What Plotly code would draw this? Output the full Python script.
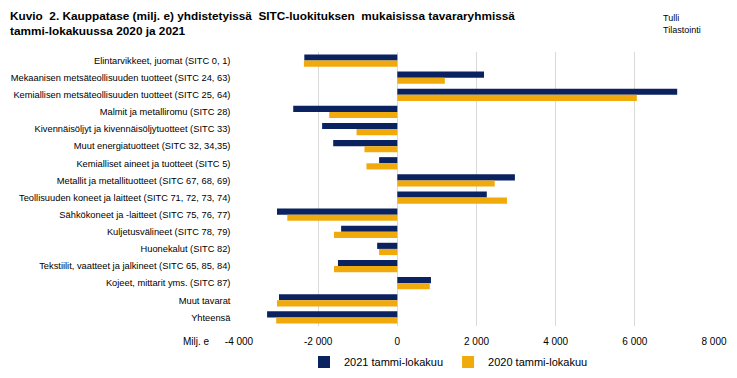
import plotly.graph_objects as go

categories = [
    "Elintarvikkeet, juomat (SITC 0, 1)",
    "Mekaanisen metsäteollisuuden tuotteet (SITC 24, 63)",
    "Kemiallisen metsäteollisuuden tuotteet (SITC 25, 64)",
    "Malmit ja metalliromu (SITC 28)",
    "Kivennäisöljyt ja kivennäisöljytuotteet (SITC 33)",
    "Muut energiatuotteet (SITC 32, 34,35)",
    "Kemialliset aineet ja tuotteet (SITC 5)",
    "Metallit ja metallituotteet (SITC 67, 68, 69)",
    "Teollisuuden koneet ja laitteet (SITC 71, 72, 73, 74)",
    "Sähkökoneet ja -laitteet (SITC 75, 76, 77)",
    "Kuljetusvälineet (SITC 78, 79)",
    "Huonekalut (SITC 82)",
    "Tekstiilit, vaatteet ja jalkineet (SITC 65, 85, 84)",
    "Kojeet, mittarit yms. (SITC 87)",
    "Muut tavarat",
    "Yhteensä",
]
values_2021 = [-2350, 2190, 7070, -2630, -1900, -1620, -460, 2970, 2260, -3040, -1420, -510, -1500, 850, -2990, -3290]
values_2020 = [-2360, 1200, 6050, -1720, -1030, -830, -780, 2460, 2770, -2780, -1600, -460, -1600, 820, -3040, -3060]
tick_vals = [-4000, -2000, 0, 2000, 4000, 6000, 8000]
tick_text = ["-4 000", "-2 000", "0", "2 000", "4 000", "6 000", "8 000"]

navy = "#0B2260"
gold = "#F0AA0C"

L, R, T, B = 239, 23, 52, 52
W, H = 737, 378
pw = W - L - R
ph = H - T - B

def px_x(x):
    return (x - L) / pw

def px_y(y):
    return (H - B - y) / ph

fig = go.Figure()
fig.add_trace(go.Bar(y=categories, x=values_2021, orientation="h", name="2021 tammi-lokakuu",
                     marker=dict(color=navy, line=dict(width=0))))
fig.add_trace(go.Bar(y=categories, x=values_2020, orientation="h", name="2020 tammi-lokakuu",
                     marker=dict(color=gold, line=dict(width=0))))

fig.update_layout(
    width=W, height=H,
    margin=dict(l=L, r=R, t=T, b=B, autoexpand=False),
    plot_bgcolor="white", paper_bgcolor="white",
    barmode="group", bargap=0.28, bargroupgap=0,
    font=dict(family="Liberation Sans, Arial, sans-serif", size=9, color="#000000"),
    showlegend=True,
    legend=dict(orientation="h", x=px_x(304), xanchor="left", y=px_y(362), yanchor="middle",
                font=dict(size=11), traceorder="normal", itemwidth=30),
    xaxis=dict(range=[-4000, 8000], tickvals=tick_vals, ticktext=tick_text,
               showgrid=True, gridcolor="#D9D9D9", gridwidth=1,
               zeroline=True, zerolinecolor="#D9D9D9", zerolinewidth=1,
               showline=False, ticks="", tickfont=dict(size=10), automargin=False,
               ticklabelstandoff=8),
    yaxis=dict(autorange="reversed", showgrid=False, ticks="", showline=False,
               tickfont=dict(size=9.3), ticksuffix=" ", automargin=False,
               ticklabelstandoff=5),
    annotations=[
        dict(text="<b>Kuvio  2. Kauppatase (milj. e) yhdistetyissä  SITC-luokituksen  mukaisissa tavararyhmissä<br>tammi-lokakuussa 2020 ja 2021</b>",
             xref="paper", yref="paper", x=px_x(8), xanchor="left",
             y=px_y(7), yanchor="top", align="left", showarrow=False,
             font=dict(size=11.8)),
        dict(text="Tulli<br>Tilastointi", xref="paper", yref="paper", x=px_x(661),
             xanchor="left", y=px_y(11), yanchor="top", align="left", showarrow=False,
             font=dict(size=9)),
        dict(text="Milj. e", xref="paper", yref="paper", x=px_x(212), xanchor="right",
             y=px_y(341), yanchor="middle", showarrow=False, font=dict(size=10)),
    ],
)

fig.write_html("out.html", config={"displayModeBar": False},
               post_script="document.body.style.margin='0';")
